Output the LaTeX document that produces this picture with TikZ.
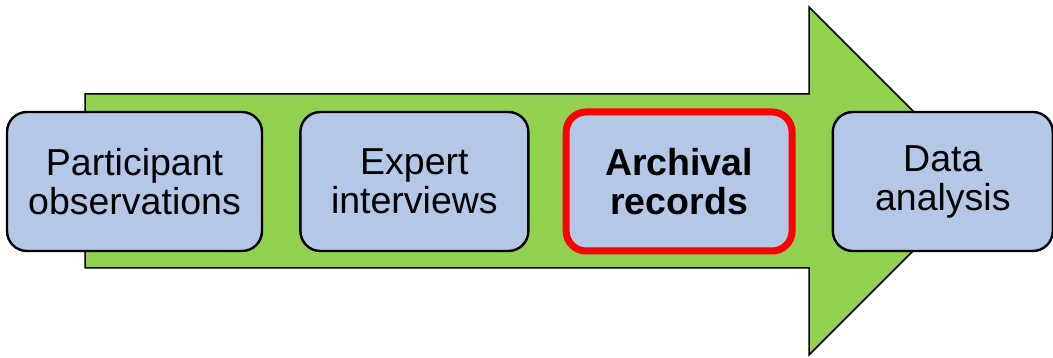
\documentclass[tikz,border=0pt]{standalone}
\usepackage{fontspec}
\setmainfont{Liberation Sans}
\usetikzlibrary{positioning}
\definecolor{flowgreen}{RGB}{146,208,80}
\definecolor{stagefill}{RGB}{180,199,231}
\definecolor{focusred}{RGB}{255,0,0}

\begin{document}
\begin{tikzpicture}[
  x=1pt, y=-1pt,
  font=\fontsize{37.5}{39}\selectfont,
  stage/.style={draw=black, line width=2.4pt, rounded corners=20pt, fill=stagefill,
    minimum height=139pt, align=center, inner sep=0pt},
  focus/.style={stage, draw=focusred, line width=7pt, font=\fontsize{37.5}{39}\selectfont\bfseries},
  flow/.style={draw=black, line width=1.5pt, fill=flowgreen, line join=miter}
]
\useasboundingbox (0,0) rectangle (1053,358);
% big arrow behind the stages
\draw[flow] (85,94) -- (809,94) -- (809,7) -- (983,181) -- (809,355)
  -- (809,268) -- (85,268) -- cycle;

\node[stage, minimum width=255pt] (obs) at (134.5,181.5) {Participant\\observations};
\node[stage, minimum width=228pt, right=36pt of obs] (intv) {Expert\\interviews};
\node[focus, minimum width=226pt, right=33pt of intv] (arch) {Archival\\records};
\node[stage, minimum width=220pt, right=36pt of arch] (anal) {Data\\analysis};
\end{tikzpicture}
\end{document}
